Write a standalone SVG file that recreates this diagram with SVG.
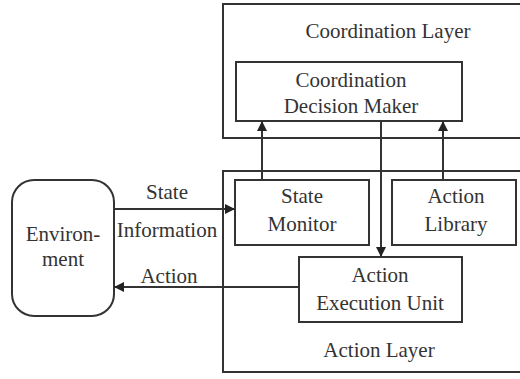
<svg xmlns="http://www.w3.org/2000/svg" width="520" height="379" viewBox="0 0 520 379">
<defs>
<style>
.box{fill:none;stroke:#333;stroke-width:2}
.ln{fill:none;stroke:#333;stroke-width:2}
</style>
<marker id="ah" viewBox="0 0 10 10" refX="10" refY="5" markerWidth="10" markerHeight="10" markerUnits="userSpaceOnUse" orient="auto">
<path d="M0,0 L10,5 L0,10 z" fill="#222"/>
</marker>
</defs>
<rect width="520" height="379" fill="#fff"/>
<g font-family="Liberation Serif, DejaVu Serif, serif" font-size="21" fill="#333" text-anchor="middle">
<g id="coordination-layer">
<rect class="box" x="223" y="4" width="310" height="134"/>
<text x="388" y="38">Coordination Layer</text>
</g>
<g id="coordination-decision-maker">
<rect class="box" x="236" y="62" width="226" height="59"/>
<text x="351" y="87">Coordination</text>
<text x="351" y="113">Decision Maker</text>
</g>
<g id="action-layer">
<rect class="box" x="223" y="171" width="310" height="201"/>
<text x="379" y="357">Action Layer</text>
</g>
<g id="state-monitor">
<rect class="box" x="235" y="180" width="134" height="65"/>
<text x="302" y="203">State</text>
<text x="302" y="231">Monitor</text>
</g>
<g id="action-library">
<rect class="box" x="392" y="180" width="124" height="65"/>
<text x="456" y="203">Action</text>
<text x="456" y="231">Library</text>
</g>
<g id="action-execution-unit">
<rect class="box" x="299" y="257" width="163" height="65"/>
<text x="380" y="282">Action</text>
<text x="380" y="310">Execution Unit</text>
</g>
<g id="environment">
<rect class="box" x="12" y="180" width="102" height="136" rx="22" ry="22"/>
<text x="63" y="241">Environ-</text>
<text x="63" y="266">ment</text>
</g>
<g id="connectors">
<line class="ln" x1="262" y1="180" x2="262" y2="121" marker-end="url(#ah)"/>
<line class="ln" x1="381" y1="121" x2="381" y2="257" marker-end="url(#ah)"/>
<line class="ln" x1="443" y1="180" x2="443" y2="121" marker-end="url(#ah)"/>
<line class="ln" x1="114" y1="209" x2="235" y2="209" marker-end="url(#ah)"/>
<line class="ln" x1="299" y1="287" x2="114" y2="287" marker-end="url(#ah)"/>
<text x="167" y="199">State</text>
<text x="167" y="237">Information</text>
<text x="169" y="283">Action</text>
</g>
</g>
</svg>
